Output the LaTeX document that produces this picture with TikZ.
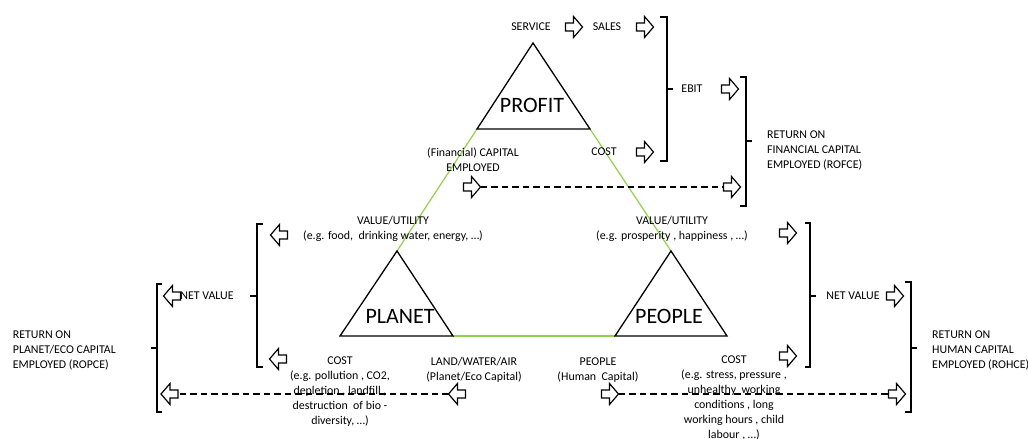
\documentclass[tikz,border=0pt]{standalone}
\usepackage{fontspec}
\setmainfont{Carlito}
\definecolor{lgreen}{RGB}{146,208,80}
\tikzset{
 txt/.style={inner sep=0pt, font=\fontsize{11.9}{15}\selectfont, align=center},
 big/.style={inner sep=0pt, font=\fontsize{22}{26}\selectfont},
 blkline/.style={line width=1.2pt, line join=miter},
 rarr/.pic={
   \draw[blkline] (-8.5,-4) -- (-0.5,-4) -- (-0.5,-10.5) -- (8.5,0) -- (-0.5,10.5) -- (-0.5,4) -- (-8.5,4) -- cycle;
   \coordinate (-tip) at (8.5,0);
   \coordinate (-tail) at (-8.5,0);
 },
 tri/.style={line width=1.3pt, line join=miter},
 edge/.style={lgreen, line width=1.2pt},
 brk/.style={line width=1.3pt},
 dsh/.style={line width=1.3pt, dash pattern=on 6.5pt off 4pt},
}
\begin{document}
\begin{tikzpicture}[x=1pt,y=-1pt]
\useasboundingbox (0,0) rectangle (1028,439);
% triangle corners
\coordinate (prT) at (533,43); \coordinate (prL) at (477,129); \coordinate (prR) at (590,129);
\coordinate (plT) at (397,251); \coordinate (plL) at (340,336); \coordinate (plR) at (453,336);
\coordinate (peT) at (671,251); \coordinate (peL) at (615,336); \coordinate (peR) at (727,336);
% green edges
\draw[edge] (prL) -- (plT);
\draw[edge] (prR) -- (peT);
\draw[edge] (plR) -- (peL);
% triangles
\draw[tri] (prT) -- (prL) -- (prR) -- cycle;
\draw[tri] (plT) -- (plL) -- (plR) -- cycle;
\draw[tri] (peT) -- (peL) -- (peR) -- cycle;
\node[big] (profit) at (532,105) {PROFIT};
\node[big] (planet) at (400,316) {PLANET};
\node[big] (people) at (669,316) {PEOPLE};
% top part
\node[txt] (service) at (531,27) {SERVICE};
\pic (arS) at (574,27) {rarr};
\node[txt] (sales) at (607,27) {SALES};
\pic (arSales) at (645,27) {rarr};
\node[txt] (ebit) at (692,89) {EBIT};
\pic (arEbit) at (730,89) {rarr};
\node[txt] (costP) at (604,152) {COST};
\pic (arCostP) at (645,152) {rarr};
\draw[brk] (660,17) -- (667,17) -- (667,161) -- (660,161);
\draw[brk] (667,89) -- (673,89);
\draw[brk] (740,77) -- (746,77) -- (746,206) -- (740,206);
\draw[brk] (746,141) -- (752,141);
\node[txt, align=left, anchor=west] (rofce) at (767,150) {\strut RETURN ON\\\strut FINANCIAL CAPITAL\\\strut EMPLOYED (ROFCE)};
\node[txt] (capital) at (473,160.5) {\strut (Financial) CAPITAL\\\strut EMPLOYED};
\pic (arCapA) at (472,187) {rarr};
\pic (arCapB) at (732,187) {rarr};
\draw[dsh] (arCapA-tip) -- (arCapB-tail);
% value texts
\node[txt] (valL) at (393,229) {\strut VALUE/UTILITY\\\strut (e.g. food,\ \ drinking water, energy, …)};
\node[txt] (valR) at (672,229) {\strut VALUE/UTILITY\\\strut (e.g. prosperity , happiness , …)};
% left side
\pic[rotate=180] (arValL) at (279,235) {rarr};
\pic[rotate=180] (arCostL) at (278,359) {rarr};
\draw[brk] (263,224) -- (257,224) -- (257,367) -- (263,367);
\draw[brk] (257,296) -- (250,296);
\node[txt] (netL) at (207,296) {NET VALUE};
\pic[rotate=180] (arNetL) at (172,296) {rarr};
\draw[brk] (162,284) -- (157,284) -- (157,412) -- (162,412);
\draw[brk] (157,348) -- (151,348);
\node[txt, align=left, anchor=west] (ropce) at (12.7,350) {\strut RETURN ON\\\strut PLANET/ECO CAPITAL\\\strut EMPLOYED (ROPCE)};
\node[txt] (costL) at (340,391) {\strut COST\\\strut (e.g. pollution , CO2,\\\strut depletion , landfill ,\\\strut destruction\ \ of bio -\\\strut diversity, …)};
\node[txt] (land) at (474,369.5) {\strut LAND/WATER/AIR\\\strut (Planet/Eco Capital)};
\node[txt] (peopleCap) at (598,369.5) {\strut PEOPLE\\\strut (Human\ \ Capital)};
\node[txt] (costR) at (734,397.5) {\strut COST\\\strut (e.g. stress, pressure ,\\\strut unhealthy\ \ working\\\strut conditions , long\\\strut working hours , child\\\strut labour , …)};
\pic[rotate=180] (arRopce) at (169.5,394) {rarr};
\pic[rotate=180] (arLand) at (457,394) {rarr};
\draw[dsh] (arLand-tip) -- (arRopce-tail);
\pic (arPeople) at (610,394) {rarr};
\pic (arRohce) at (897,394) {rarr};
\draw[dsh] (arPeople-tip) -- (arRohce-tail);
% right side
\pic (arValR) at (788,233) {rarr};
\pic (arCostR) at (788,356) {rarr};
\draw[brk] (805,223) -- (810,223) -- (810,367) -- (805,367);
\draw[brk] (810,296) -- (816,296);
\node[txt] (netR) at (853,296) {NET VALUE};
\pic (arNetR) at (895,296) {rarr};
\draw[brk] (905,282) -- (911,282) -- (911,412) -- (905,412);
\draw[brk] (911,348) -- (917,348);
\node[txt, align=left, anchor=west] (rohce) at (932,350) {\strut RETURN ON\\\strut HUMAN CAPITAL\\\strut EMPLOYED (ROHCE)};
\end{tikzpicture}
\end{document}
